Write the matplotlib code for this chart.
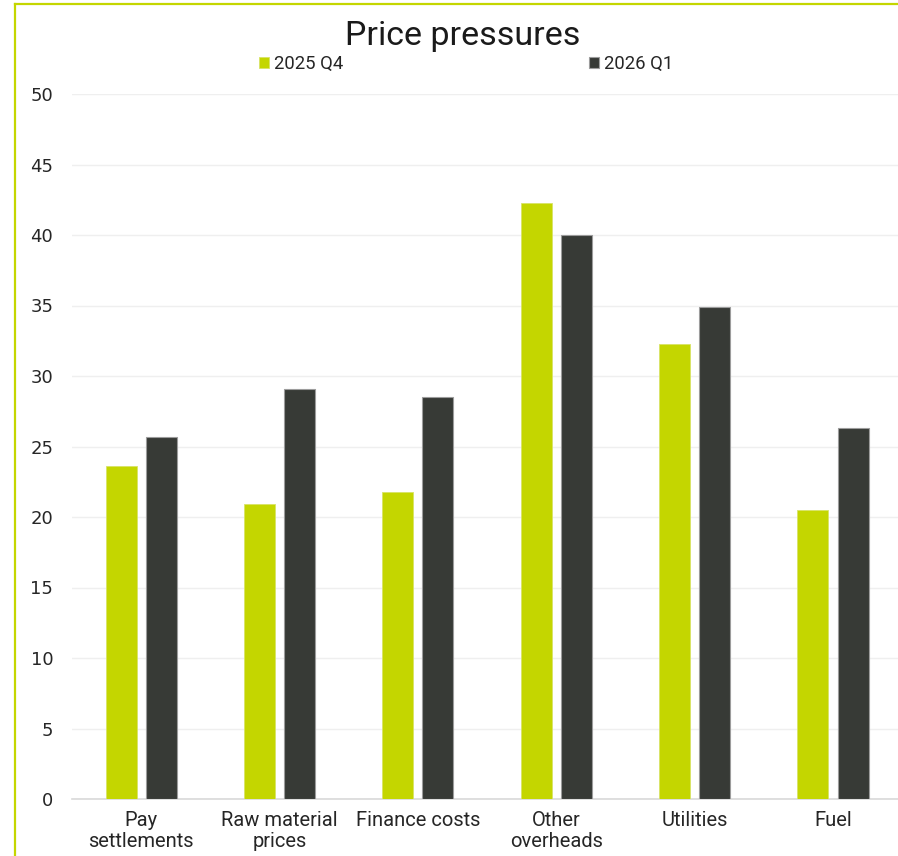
"""Price pressures: 2025 Q4 vs 2026 Q1 grouped bar chart."""

import numpy as np
import matplotlib
matplotlib.use("Agg")
import matplotlib.pyplot as plt
from matplotlib.lines import Line2D

categories = ["Pay\nsettlements", "Raw material\nprices", "Finance costs",
              "Other\noverheads", "Utilities", "Fuel"]
q4_2025 = [23.6, 20.9, 21.8, 42.3, 32.3, 20.5]
q1_2026 = [25.7, 29.1, 28.5, 40.0, 34.9, 26.3]
series_names = ["2025 Q4", "2026 Q1"]
y_ticks = [0, 5, 10, 15, 20, 25, 30, 35, 40, 45, 50]

GREEN = "#c4d600"
DARK = "#373a36"

plt.rcParams["font.family"] = ["Roboto", "DejaVu Sans"]


def main() -> None:
    fig = plt.figure(figsize=(8.98, 8.56), dpi=100)
    ax = fig.add_axes([72 / 898, 57 / 856, 826 / 898, 705 / 856])

    x = np.arange(len(categories))
    w = 0.224
    ax.bar(x - 0.145, q4_2025, w, color=GREEN, edgecolor="#d8e466",
           linewidth=0.6, label=series_names[0], zorder=3)
    ax.bar(x + 0.145, q1_2026, w, color=DARK, edgecolor="#9c9c9c",
           linewidth=0.8, label=series_names[1], zorder=3)

    ax.set_xlim(-0.5, 5.47)
    ax.set_ylim(0, 50)
    ax.set_yticks(y_ticks)
    ax.set_xticks(x)
    ax.set_xticklabels(categories, fontsize=14.5, color="#262626", linespacing=1.1)
    ax.tick_params(axis="y", labelsize=13, labelcolor="#262626", length=0, pad=13.5)
    ax.tick_params(axis="x", length=0, pad=9)
    for lab in ax.get_yticklabels():
        lab.set_fontfamily(["DejaVu Sans"])

    ax.grid(axis="y", color="#efefef", linewidth=1.0, zorder=0)
    for side in ("top", "right", "left"):
        ax.spines[side].set_visible(False)
    ax.spines["bottom"].set_color("#d9d9d9")
    ax.spines["bottom"].set_linewidth(1.2)

    fig.text(463 / 898, 1 - 36 / 856, "Price pressures", fontsize=24.5,
             ha="center", va="center", color="#1a1a1a")
    ax.legend(loc="center", bbox_to_anchor=(466 / 898, 1 - 64 / 856),
              bbox_transform=fig.transFigure, ncol=2, frameon=False,
              fontsize=13.3, handlelength=0.55, handleheight=0.6,
              handletextpad=0.25, columnspacing=13.3, labelcolor="#262626")

    fig.add_artist(Line2D([14.5 / 898, 14.5 / 898], [0, 1 - 3.5 / 856],
                          transform=fig.transFigure, color=GREEN, linewidth=1.6))
    fig.add_artist(Line2D([14.5 / 898, 1], [1 - 3.5 / 856, 1 - 3.5 / 856],
                          transform=fig.transFigure, color=GREEN, linewidth=1.6))

    fig.savefig("out.png", dpi=100)
    plt.close(fig)


if __name__ == "__main__":
    main()
